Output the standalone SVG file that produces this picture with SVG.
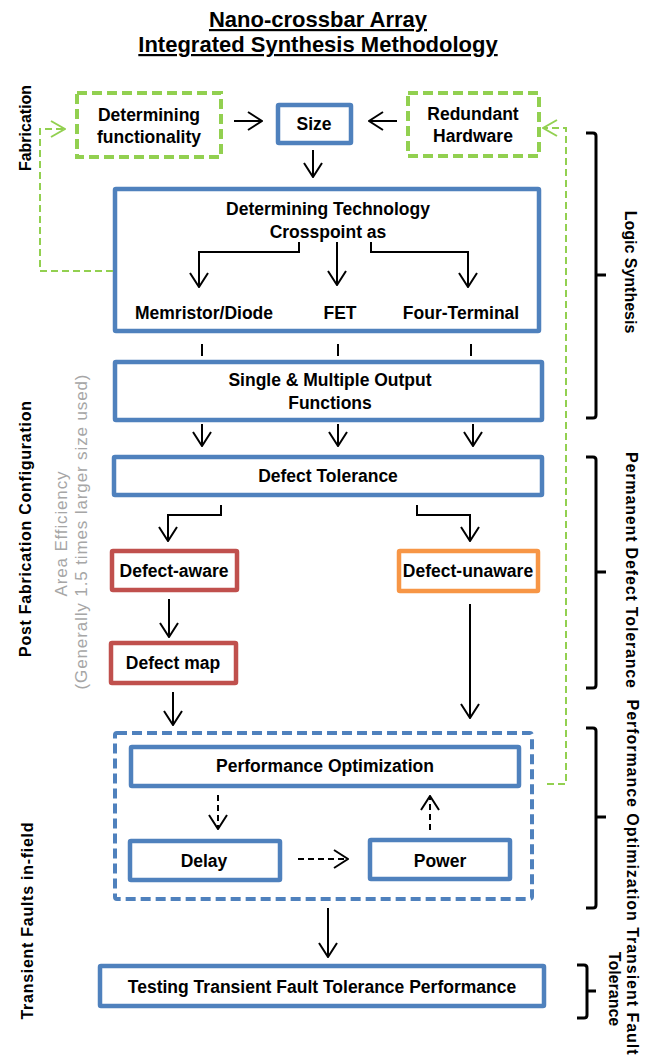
<svg xmlns="http://www.w3.org/2000/svg" width="651" height="1059" viewBox="0 0 651 1059">
<style>
text{font-family:"Liberation Sans",Arial,sans-serif;font-weight:bold;fill:#000;}
.t{font-size:17.5px;text-anchor:middle;}
.title{font-size:22px;text-anchor:middle;text-decoration:underline;}
.side{font-size:16px;text-anchor:middle;}
.gray{font-size:17px;font-weight:normal;fill:#a6a6a6;text-anchor:middle;}
.blue{fill:#fff;stroke:#4f81bd;stroke-width:4.5;}
.red{fill:#fff;stroke:#c0504d;stroke-width:4.5;}
.orange{fill:#fff;stroke:#f79646;stroke-width:4.5;}
.gbox{fill:#fff;stroke:#92d050;stroke-width:4;stroke-dasharray:10 5;}
.bdash{fill:none;stroke:#4f81bd;stroke-width:4;stroke-dasharray:10 5;}
.ar{fill:none;stroke:#000;stroke-width:2;}
.arh{marker-end:url(#ah);}
.dash{stroke-dasharray:6 4;}
.gl{fill:none;stroke:#92d050;stroke-width:2;stroke-dasharray:7 4;}
.brace{fill:none;stroke:#000;stroke-width:3;}
</style>
<defs>
<marker id="ah" markerUnits="userSpaceOnUse" viewBox="0 0 16 20" markerWidth="16" markerHeight="20" refX="15" refY="10" orient="auto">
<path d="M1,1 L15,10 L1,19" fill="none" stroke="#000" stroke-width="2" stroke-linejoin="miter"/>
</marker>
<marker id="gah" markerUnits="userSpaceOnUse" viewBox="0 0 16 20" markerWidth="16" markerHeight="20" refX="15" refY="10" orient="auto">
<path d="M1,2 L15,10 L1,18" fill="none" stroke="#92d050" stroke-width="2"/>
</marker>
</defs>

<g id="title">
<text class="title" x="318" y="27">Nano-crossbar  Array</text>
<text class="title" x="318" y="52">Integrated Synthesis  Methodology</text>
</g>

<g id="side-labels-left">
<text class="side" transform="translate(31,128) rotate(-90)">Fabrication</text>
<text class="side" transform="translate(31,529) rotate(-90)" textLength="256" lengthAdjust="spacing">Post Fabrication  Configuration</text>
<text class="gray" transform="translate(67,534) rotate(-90)" textLength="125" lengthAdjust="spacing">Area Efficiency</text>
<text class="gray" transform="translate(87,532) rotate(-90)" textLength="315" lengthAdjust="spacing">(Generally 1.5 times larger size used)</text>
<text class="side" transform="translate(33,921) rotate(-90)" textLength="197" lengthAdjust="spacing">Transient Faults in-field</text>
</g>

<g id="side-labels-right">
<text class="side" transform="translate(625,272) rotate(90)">Logic Synthesis</text>
<text class="side" transform="translate(626,570) rotate(90)" textLength="236" lengthAdjust="spacing">Permanent Defect  Tolerance</text>
<text class="side" transform="translate(627,877) rotate(90)" textLength="355" lengthAdjust="spacing">Performance  Optimization  Transient  Fault</text>
<text class="side" transform="translate(609,989) rotate(90)">Tolerance</text>
</g>

<g id="braces">
<path class="brace" d="M586,133 H593 Q596,133 596,136 V415 Q596,418 593,418 H586 M596,275 H606"/>
<path class="brace" d="M586,457 H593 Q596,457 596,460 V685 Q596,688 593,688 H586 M596,572 H606"/>
<path class="brace" d="M586,728 H593 Q596,728 596,731 V905 Q596,908 593,908 H586 M596,817 H606"/>
<path class="brace" d="M577,965 H584 Q587,965 587,968 V1015 Q587,1018 584,1018 H577 M587,991 H596"/>
</g>

<g id="node-functionality">
<rect class="gbox" x="77" y="93" width="144" height="64"/>
<text class="t" x="149" y="121">Determining</text>
<text class="t" x="149" y="143">functionality</text>
</g>

<g id="node-size">
<rect class="blue" x="278" y="105" width="73" height="38" rx="1"/>
<text class="t" x="314" y="130">Size</text>
</g>

<g id="node-redundant">
<rect class="gbox" x="408" y="93" width="131" height="63"/>
<text class="t" x="473" y="120">Redundant</text>
<text class="t" x="473" y="142">Hardware</text>
</g>

<g id="node-technology">
<rect class="blue" x="115" y="189" width="424" height="142" rx="1"/>
<text class="t" x="328" y="215">Determining Technology</text>
<text class="t" x="328" y="238">Crosspoint as</text>
<text class="t" x="204" y="319">Memristor/Diode</text>
<text class="t" x="340" y="319">FET</text>
<text class="t" x="461" y="319">Four-Terminal</text>
</g>

<g id="node-single">
<rect class="blue" x="115" y="362" width="427" height="58" rx="1"/>
<text class="t" x="330" y="386">Single &amp; Multiple Output</text>
<text class="t" x="330" y="409">Functions</text>
</g>

<g id="node-defect-tolerance">
<rect class="blue" x="114" y="457" width="428" height="38" rx="1"/>
<text class="t" x="328" y="482">Defect  Tolerance</text>
</g>

<g id="node-defect-aware">
<rect class="red" x="112" y="551" width="125" height="39" rx="1"/>
<text class="t" x="174" y="577">Defect-aware</text>
</g>

<g id="node-defect-unaware">
<rect class="orange" x="399" y="551" width="139" height="40" rx="1"/>
<text class="t" x="468" y="577">Defect-unaware</text>
</g>

<g id="node-defect-map">
<rect class="red" x="111" y="643" width="125" height="40" rx="1"/>
<text class="t" x="173" y="669">Defect  map</text>
</g>

<g id="node-performance-group">
<rect class="bdash" x="115" y="733" width="417" height="166" rx="2"/>
</g>

<g id="node-performance">
<rect class="blue" x="131" y="747" width="388" height="39" rx="1"/>
<text class="t" x="325" y="772">Performance  Optimization</text>
</g>

<g id="node-delay">
<rect class="blue" x="130" y="841" width="150" height="39" rx="1"/>
<text class="t" x="204" y="867">Delay</text>
</g>

<g id="node-power">
<rect class="blue" x="370" y="840" width="140" height="39" rx="1"/>
<text class="t" x="440" y="867">Power</text>
</g>

<g id="node-testing">
<rect class="blue" x="100" y="966" width="444" height="40" rx="1"/>
<text class="t" x="322" y="993">Testing Transient Fault Tolerance Performance</text>
</g>

<g id="connectors">
<line class="ar arh" x1="234" y1="121" x2="262" y2="121"/>
<line class="ar arh" x1="397" y1="121" x2="369" y2="121"/>
<line class="ar arh" x1="313" y1="150" x2="313" y2="177"/>
<polyline class="ar arh" points="299,242 299,252 199,252 199,287"/>
<line class="ar arh" x1="337" y1="242" x2="337" y2="285"/>
<polyline class="ar arh" points="371,242 371,252 468,252 468,287"/>
<line class="ar" x1="202" y1="344" x2="202" y2="356"/>
<line class="ar" x1="338" y1="344" x2="338" y2="356"/>
<line class="ar" x1="471" y1="344" x2="471" y2="356"/>
<line class="ar arh" x1="202" y1="424" x2="202" y2="446"/>
<line class="ar arh" x1="338" y1="424" x2="338" y2="446"/>
<line class="ar arh" x1="473" y1="424" x2="473" y2="446"/>
<polyline class="ar arh" points="221,505 221,515 168,515 168,541"/>
<polyline class="ar arh" points="417,505 417,515 470,515 470,541"/>
<line class="ar arh" x1="169" y1="599" x2="169" y2="637"/>
<line class="ar arh" x1="173" y1="692" x2="173" y2="725"/>
<line class="ar arh" x1="470" y1="604" x2="470" y2="718"/>
<line class="ar arh dash" x1="218" y1="795" x2="218" y2="829"/>
<line class="ar arh dash" x1="298" y1="859" x2="348" y2="859"/>
<line class="ar arh dash" x1="430" y1="830" x2="430" y2="796"/>
<line class="ar arh" x1="328" y1="908" x2="328" y2="957"/>
<polyline class="gl" points="113,271 40,271 40,129 65,129" marker-end="url(#gah)"/>
<polyline class="gl" points="547,784 566,784 566,128 543,128" marker-end="url(#gah)"/>
</g>
</svg>
